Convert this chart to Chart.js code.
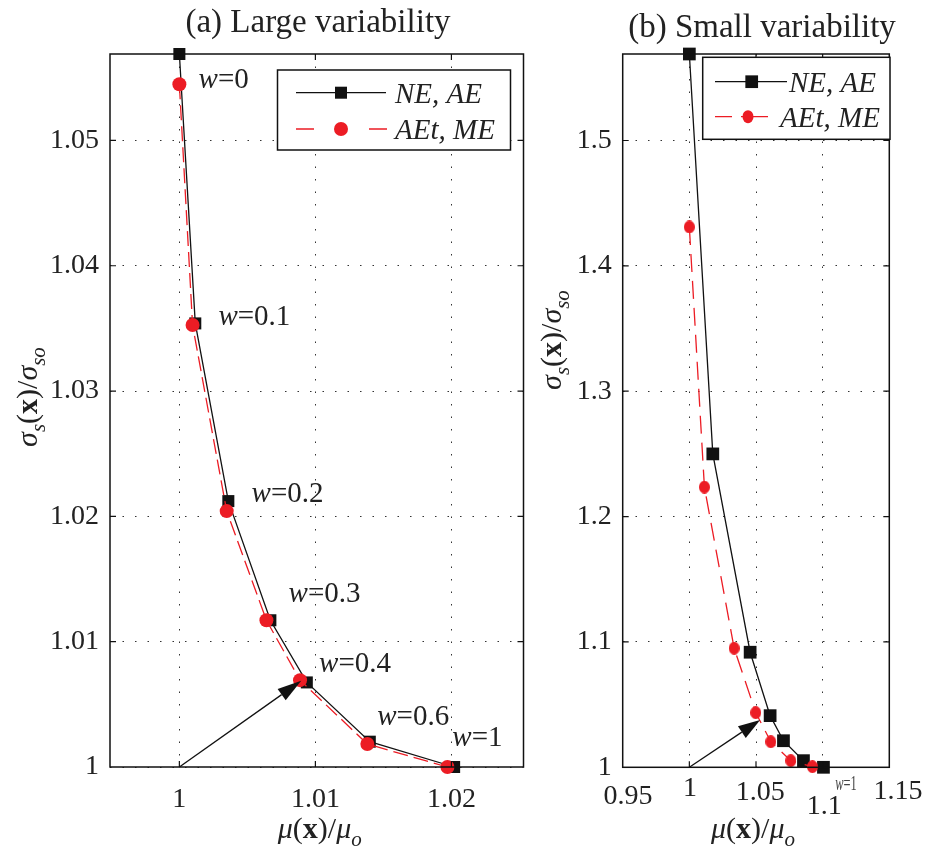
<!DOCTYPE html>
<html><head><meta charset="utf-8">
<script src="https://cdn.jsdelivr.net/npm/chart.js@4.4.1/dist/chart.umd.min.js"></script>
<style>
html,body{margin:0;padding:0;background:#fff;}
#wrap{position:relative;width:928px;height:847px;overflow:hidden;background:#fff;}
canvas{position:absolute;top:0;}
#ca{left:0;} #cb{left:532px;}
</style></head><body>
<div id="wrap"><canvas id="ca" width="532" height="847"></canvas><canvas id="cb" width="396" height="847"></canvas></div>
<script>
// ---------- data: panel (a) Large variability ----------
const wLabelsA = ['0', '0.1', '0.2', '0.3', '0.4', '0.6', '1'];
const neAeA_x  = [1.0, 1.00117, 1.0036, 1.00669, 1.00937, 1.0140, 1.0202];
const neAeA_y  = [1.0569, 1.0354, 1.02122, 1.01171, 1.00675, 1.00202, 1.0];
const aetMeA_x = [1.0, 1.00097, 1.00348, 1.0064, 1.00887, 1.01382, 1.01971];
const aetMeA_y = [1.05448, 1.03527, 1.02042, 1.01171, 1.00693, 1.00183, 1.0];
const xTicksA  = [1, 1.01, 1.02];
const yTicksA  = [1, 1.01, 1.02, 1.03, 1.04, 1.05];
// where each w label sits (data units)
const wLabelXA = [1.00141, 1.00287, 1.00531, 1.00803, 1.01027, 1.01455, 1.02007];
const wLabelYA = [1.05415, 1.03527, 1.02116, 1.01318, 1.00758, 1.00337, 1.00167];
// arrow (data units): from -> to
const arrowA = [[1.0, 1.0], [1.00896, 1.00688]];

// ---------- data: panel (b) Small variability ----------
const neAeB_x  = [1.0, 1.0176, 1.0456, 1.0606, 1.0706, 1.0856, 1.1006];
const neAeB_y  = [1.569, 1.250, 1.0918, 1.0412, 1.0212, 1.0053, 1.0];
const aetMeB_x = [1.0, 1.0113, 1.0336, 1.0498, 1.0611, 1.0761, 1.0923];
const aetMeB_y = [1.431, 1.2235, 1.095, 1.0436, 1.0204, 1.0053, 1.0005];
const xTicksB  = [0.95, 1, 1.05, 1.1, 1.15];
const yTicksB  = [1, 1.1, 1.2, 1.3, 1.4, 1.5];
const wLabelsB = ['1'];
const wLabelXB = [1.1094];
const wLabelYB = [0.9819];
const arrowB = [[1.0, 1.0], [1.0531, 1.0378]];

const seriesNames = ['NE, AE', 'AEt, ME'];
const titles = ['(a) Large variability', '(b) Small variability'];

// ---------- styling ----------
const FONT = '"Liberation Serif", "Times New Roman", serif';
const RED = '#EC1C24';
const BLACK = '#111111';
const TXT = '#222222';

function pts(xs, ys) { return xs.map((x, i) => ({x: x, y: ys[i]})); }
function fmt(v) { return String(parseFloat(Number(v).toFixed(4))); }
function fnt(it, b, size) { return (it ? 'italic ' : 'normal ') + (b ? 'bold ' : 'normal ') + size + 'px ' + FONT; }

// elliptical red marker for panel (b)
function ellipseMarker(w, h) {
  const c = document.createElement('canvas');
  c.width = w; c.height = h;
  const g = c.getContext('2d');
  g.fillStyle = RED;
  g.beginPath(); g.ellipse(w / 2, h / 2, w / 2, h / 2, 0, 0, Math.PI * 2); g.fill();
  return c;
}

const yTitle = [
  {t: 'σ', it: 1}, {t: 's', it: 1, sub: 1}, {t: '('}, {t: 'x', b: 1}, {t: ')'}, {t: '/'},
  {t: 'σ', it: 1}, {t: 'so', it: 1, sub: 1}
];
const xTitle = [
  {t: 'μ', it: 1}, {t: '('}, {t: 'x', b: 1}, {t: ')'}, {t: '/'}, {t: 'μ', it: 1}, {t: 'o', it: 1, sub: 1}
];

function drawRich(ctx, pieces, x, y, base) {
  ctx.textBaseline = 'alphabetic';
  ctx.textAlign = 'left';
  let total = 0;
  const ws = pieces.map(p => {
    ctx.font = fnt(p.it, p.b, p.sub ? base * 0.7 : base);
    const w = ctx.measureText(p.t).width;
    total += w;
    return w;
  });
  let cx = x - total / 2;
  pieces.forEach((p, i) => {
    ctx.font = fnt(p.it, p.b, p.sub ? base * 0.7 : base);
    ctx.fillText(p.t, cx, y + (p.sub ? base * 0.25 : 0));
    cx += ws[i];
  });
}

function drawArrow(ctx, x0, y0, x1, y1, len, hw) {
  const dx = x1 - x0, dy = y1 - y0, L = Math.hypot(dx, dy);
  const ux = dx / L, uy = dy / L;
  const bx = x1 - ux * len, by = y1 - uy * len;
  ctx.strokeStyle = BLACK; ctx.fillStyle = BLACK; ctx.lineWidth = 1.3; ctx.setLineDash([]);
  ctx.beginPath(); ctx.moveTo(x0, y0); ctx.lineTo(bx, by); ctx.stroke();
  ctx.beginPath();
  ctx.moveTo(x1, y1);
  ctx.lineTo(bx - uy * hw, by + ux * hw);
  ctx.lineTo(bx + uy * hw, by - ux * hw);
  ctx.closePath(); ctx.fill();
}

function makeDecor(cfg) {
  return {
    id: 'decor',
    afterDraw(chart) {
      const ctx = chart.ctx, a = chart.chartArea, ox = cfg.ox;
      const xs = chart.scales.x, ys = chart.scales.y;
      ctx.save();
      // frame + inward ticks
      ctx.strokeStyle = BLACK; ctx.lineWidth = 1.5; ctx.setLineDash([]);
      ctx.strokeRect(a.left, a.top, a.right - a.left, a.bottom - a.top);
      ctx.lineWidth = 1.2;
      ctx.beginPath();
      cfg.xTicks.forEach(v => {
        const p = xs.getPixelForValue(v);
        if (p <= a.left + 1 || p >= a.right - 1) return;
        ctx.moveTo(p, a.bottom); ctx.lineTo(p, a.bottom - 6);
        ctx.moveTo(p, a.top); ctx.lineTo(p, a.top + 6);
      });
      cfg.yTicks.forEach(v => {
        const p = ys.getPixelForValue(v);
        if (p <= a.top + 1 || p >= a.bottom - 1) return;
        ctx.moveTo(a.left, p); ctx.lineTo(a.left + 6, p);
        ctx.moveTo(a.right, p); ctx.lineTo(a.right - 6, p);
      });
      ctx.stroke();

      // arrow
      drawArrow(ctx, xs.getPixelForValue(cfg.arrow[0][0]), ys.getPixelForValue(cfg.arrow[0][1]),
        xs.getPixelForValue(cfg.arrow[1][0]), ys.getPixelForValue(cfg.arrow[1][1]), cfg.arrowLen, cfg.arrowHW);

      // w labels
      ctx.fillStyle = TXT; ctx.textBaseline = 'alphabetic'; ctx.textAlign = 'left';
      cfg.wLabels.forEach((t, i) => {
        const px = xs.getPixelForValue(cfg.wX[i]), py = ys.getPixelForValue(cfg.wY[i]);
        ctx.save();
        ctx.translate(px, py);
        ctx.scale(cfg.wScaleX, 1);
        ctx.fillStyle = cfg.wColor;
        ctx.font = fnt(1, 0, cfg.wSize);
        ctx.fillText('w', 0, 0);
        const w = ctx.measureText('w').width;
        ctx.font = fnt(0, 0, cfg.wSize);
        ctx.fillText('=' + t, w, 0);
        ctx.restore();
      });

      // custom x tick labels (panel b)
      if (cfg.xTickLabels) {
        ctx.fillStyle = TXT; ctx.font = fnt(0, 0, 28); ctx.textAlign = 'center'; ctx.textBaseline = 'middle';
        cfg.xTicks.forEach((v, i) => {
          const p = xs.getPixelForValue(v);
          ctx.fillText(fmt(v), p + cfg.xTickLabels.dx[i], cfg.xTickLabels.y + cfg.xTickLabels.dy[i]);
        });
      }

      // legend
      const L = cfg.legend;
      ctx.fillStyle = '#fff';
      ctx.fillRect(L.box[0] - ox, L.box[1], L.box[2], L.box[3]);
      ctx.strokeStyle = BLACK; ctx.lineWidth = 1.5; ctx.setLineDash([]);
      ctx.strokeRect(L.box[0] - ox, L.box[1], L.box[2], L.box[3]);
      // row 1 : black
      ctx.lineWidth = 1.3;
      ctx.beginPath(); ctx.moveTo(L.r1.x0 - ox, L.r1.y); ctx.lineTo(L.r1.x1 - ox, L.r1.y); ctx.stroke();
      ctx.fillStyle = BLACK;
      ctx.fillRect(L.r1.m - ox - L.sq / 2, L.r1.y - L.sq / 2, L.sq, L.sq);
      // row 2 : red
      ctx.strokeStyle = RED;
      ctx.beginPath();
      L.r2.segs.forEach(s => { ctx.moveTo(s[0] - ox, L.r2.y); ctx.lineTo(s[1] - ox, L.r2.y); });
      ctx.stroke();
      ctx.fillStyle = RED;
      ctx.beginPath(); ctx.ellipse(L.r2.m - ox, L.r2.y, L.cw, L.ch, 0, 0, Math.PI * 2); ctx.fill();
      ctx.fillStyle = TXT; ctx.font = fnt(1, 0, 29); ctx.textAlign = 'left'; ctx.textBaseline = 'alphabetic';
      ctx.fillText(seriesNames[0], L.r1.tx - ox, L.r1.ty);
      ctx.fillText(seriesNames[1], L.r2.tx - ox, L.r2.ty);

      // title
      ctx.fillStyle = TXT; ctx.font = fnt(0, 0, 33); ctx.textAlign = 'center'; ctx.textBaseline = 'alphabetic';
      ctx.fillText(cfg.title, cfg.titleX - ox, cfg.titleY);

      // axis titles
      ctx.fillStyle = TXT;
      drawRich(ctx, xTitle, (a.left + a.right) / 2 + cfg.xTitleDx, cfg.xTitleY, 30);
      ctx.save();
      ctx.translate(cfg.yTitleX - ox, cfg.yTitleY);
      ctx.rotate(-Math.PI / 2);
      drawRich(ctx, yTitle, 0, 0, 30);
      ctx.restore();

      ctx.restore();
    }
  };
}

function makeScales(xMin, xMax, yMin, yMax, xT, yT, yWidth, xHeight, showXTicks) {
  return {
    x: {
      type: 'linear', min: xMin, max: xMax,
      afterBuildTicks: s => { s.ticks = xT.map(v => ({value: v})); },
      afterFit: s => { s.height = xHeight; },
      grid: {color: '#333', lineWidth: 1, drawTicks: false},
      border: {display: false, dash: [1.5, 11]},
      ticks: {display: showXTicks, padding: 16, color: TXT, font: {family: FONT, size: 28},
        callback: v => fmt(v), maxRotation: 0, autoSkip: false}
    },
    y: {
      type: 'linear', min: yMin, max: yMax,
      afterBuildTicks: s => { s.ticks = yT.map(v => ({value: v})); },
      afterFit: s => { s.width = yWidth; },
      grid: {color: '#333', lineWidth: 1, drawTicks: false},
      border: {display: false, dash: [1.5, 11]},
      ticks: {padding: 11, color: TXT, font: {family: FONT, size: 28},
        callback: v => fmt(v), autoSkip: false}
    }
  };
}

function commonOpts(padRight, scales, ) {
  return {
    responsive: false, animation: false, events: [],
    layout: {padding: {top: 54, right: padRight, left: 0, bottom: 0}},
    plugins: {legend: {display: false}, tooltip: {enabled: false}, title: {display: false}},
    scales: scales
  };
}

// ---------- chart (a) ----------
new Chart(document.getElementById('ca'), {
  type: 'scatter',
  data: {datasets: [
    {label: seriesNames[1], data: pts(aetMeA_x, aetMeA_y), showLine: true, borderColor: RED, backgroundColor: RED,
     borderWidth: 1.3, borderDash: [15, 6], pointStyle: 'circle', pointRadius: 7, pointBorderWidth: 0, order: 1, clip: false},
    {label: seriesNames[0], data: pts(neAeA_x, neAeA_y), showLine: true, borderColor: BLACK, backgroundColor: BLACK,
     borderWidth: 1.3, pointStyle: 'rect', pointRadius: 8.5, pointBorderWidth: 0, order: 2, clip: false}
  ]},
  options: commonOpts(6, makeScales(0.9949, 1.0253, 1.0, 1.0569, xTicksA, yTicksA, 110, 80, true)),
  plugins: [makeDecor({
    ox: 0, xTicks: xTicksA, yTicks: yTicksA, arrow: arrowA, arrowLen: 24, arrowHW: 7,
    wLabels: wLabelsA, wX: wLabelXA, wY: wLabelYA, wSize: 29, wScaleX: 1, wColor: TXT,
    legend: {box: [277.5, 70, 233, 80], sq: 12, cw: 7, ch: 7,
      r1: {y: 92.7, x0: 296, x1: 386, m: 341, tx: 395, ty: 103},
      r2: {y: 129, segs: [[296, 314], [369, 387]], m: 341, tx: 395, ty: 139}},
    title: titles[0], titleX: 318, titleY: 32,
    xTitleDx: 3, xTitleY: 838, yTitleX: 37, yTitleY: 397
  })]
});

// ---------- chart (b) ----------
new Chart(document.getElementById('cb'), {
  type: 'scatter',
  data: {datasets: [
    {label: seriesNames[1], data: pts(aetMeB_x, aetMeB_y), showLine: true, borderColor: RED, backgroundColor: RED,
     borderWidth: 1.3, borderDash: [18, 9], pointStyle: ellipseMarker(11, 13), pointRadius: 6, pointBorderWidth: 0, order: 1, clip: false},
    {label: seriesNames[0], data: pts(neAeB_x, neAeB_y), showLine: true, borderColor: BLACK, backgroundColor: BLACK,
     borderWidth: 1.3, pointStyle: 'rect', pointRadius: 9, pointBorderWidth: 0, order: 2, clip: false}
  ]},
  options: commonOpts(38.7, makeScales(0.95, 1.15, 1.0, 1.569, xTicksB, yTicksB, 90.7, 79.7, false)),
  plugins: [makeDecor({
    ox: 532, xTicks: xTicksB, yTicks: yTicksB, arrow: arrowB, arrowLen: 22, arrowHW: 7,
    wLabels: wLabelsB, wX: wLabelXB, wY: wLabelYB, wSize: 20, wScaleX: 0.62, wColor: '#444',
    xTickLabels: {y: 793, dx: [5.3, 0.7, 4.3, 1.7, 8.7], dy: [3.7, -4, 0, 13.7, -1.3]},
    legend: {box: [702.7, 57.3, 187.3, 82], sq: 12.7, cw: 5.5, ch: 6.5,
      r1: {y: 81.7, x0: 715, x1: 787, m: 751.7, tx: 789, ty: 92},
      r2: {y: 116.7, segs: [[715, 732], [741, 768]], m: 748, tx: 780, ty: 127}},
    title: titles[1], titleX: 762, titleY: 37,
    xTitleDx: -3, xTitleY: 838, yTitleX: 561, yTitleY: 340
  })]
});
</script>
</body></html>
